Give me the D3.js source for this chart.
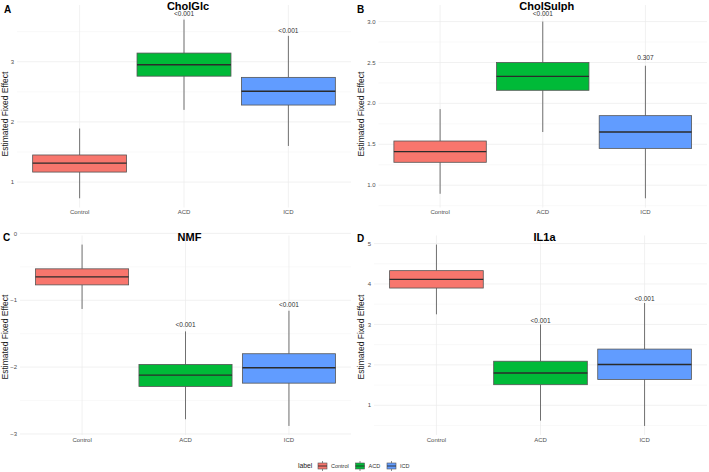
<!DOCTYPE html>
<html>
<head>
<meta charset="utf-8">
<script src="https://cdn.jsdelivr.net/npm/d3@7"></script>
<style>
  body { margin: 0; background: #fff; }
  svg { font-family: "Liberation Sans", Arial, sans-serif; }
</style>
</head>
<body>
<svg width="709" height="472"></svg>
<script>
// data
const groups = ["Control", "ACD", "ICD"];
const colors = ["#F8766D", "#00BA38", "#619CFF"];
const titles = ["CholGlc", "CholSulph", "NMF", "IL1a"];
const tags = ["A", "B", "C", "D"];

const whiskerLow  = [[0.73, 2.20, 1.60], [0.895, 1.65, 0.84], [-1.13, -2.78, -2.88], [3.25, 0.62, 0.49]];
const q1          = [[1.166, 2.76, 2.28], [1.28, 2.16, 1.45], [-0.77, -2.29, -2.24], [3.90, 1.51, 1.64]];
const medians     = [[1.315, 2.95, 2.51], [1.41, 2.33, 1.65], [-0.65, -2.12, -2.01], [4.115, 1.80, 2.01]];
const q3          = [[1.45, 3.144, 2.74], [1.54, 2.50, 1.85], [-0.53, -1.96, -1.80], [4.33, 2.09, 2.39]];
const whiskerHigh = [[1.89, 3.70, 3.43], [1.93, 3.00, 2.46], [-0.167, -1.466, -1.157], [4.975, 3.00, 3.53]];

const pLabels  = [["", "<0.001", "<0.001"], ["", "<0.001", "0.307"], ["", "<0.001", "<0.001"], ["", "<0.001", "<0.001"]];
const pLabelY  = [[null, 3.79, 3.51], [null, 3.09, 2.56], [null, -1.37, -1.06], [null, 3.08, 3.63]];

const yTicks = [[1, 2, 3], [1.0, 1.5, 2.0, 2.5, 3.0], [-3, -2, -1, 0], [1, 2, 3, 4, 5]];
const yTickFormat = [d3.format("d"), d3.format(".1f"), d3.format("d"), d3.format("d")];

// panel placement
const layout = [
    {left: 17,    right: 351, top: 5,     bottom: 207.5, labX: 5,   labY: 114, titleY: 10,  tagX: 4,   tagY: 13},
    {left: 378.5, right: 707, top: 5,     bottom: 207.5, labX: 361, labY: 114, titleY: 10,  tagX: 357, tagY: 12.5},
    {left: 20,    right: 351, top: 235.5, bottom: 435,   labX: 5,   labY: 337, titleY: 241, tagX: 3,   tagY: 241},
    {left: 374,   right: 707, top: 235.5, bottom: 435,   labX: 361, labY: 337, titleY: 241, tagX: 357, tagY: 241.5}
];

const svg = d3.select("svg");

function drawPanel(p) {
    let L = layout[p];
    let g = svg.append("g");

    let x = d3.scalePoint()
        .domain(groups)
        .range([L.left, L.right])
        .padding(0.6);
    let boxW = x.step() * 0.9;

    let lo = d3.min(whiskerLow[p]);
    let hi = d3.max(whiskerHigh[p].concat(pLabelY[p].filter(v => v !== null)));
    let pad = (hi - lo) * 0.05;
    let y = d3.scaleLinear()
        .domain([lo - pad, hi + pad])
        .range([L.bottom, L.top]);

    //minor grid: midpoints between major ticks
    let ticks = yTicks[p];
    let stepT = ticks[1] - ticks[0];
    let minor = d3.range(ticks[0] - stepT / 2, ticks[ticks.length - 1] + stepT, stepT)
        .filter(v => v >= y.domain()[0] && v <= y.domain()[1]);

    g.selectAll(".minor").data(minor).enter().append("line")
        .attr("x1", L.left).attr("x2", L.right)
        .attr("y1", d => y(d)).attr("y2", d => y(d))
        .attr("stroke", "#f2f2f2").attr("stroke-width", 0.5);

    g.selectAll(".major").data(ticks).enter().append("line")
        .attr("x1", L.left).attr("x2", L.right)
        .attr("y1", d => y(d)).attr("y2", d => y(d))
        .attr("stroke", "#ebebeb").attr("stroke-width", 0.7);

    g.selectAll(".vgrid").data(groups).enter().append("line")
        .attr("x1", d => x(d)).attr("x2", d => x(d))
        .attr("y1", L.top).attr("y2", L.bottom)
        .attr("stroke", "#ebebeb").attr("stroke-width", 0.7);

    //y tick labels
    g.selectAll(".ytick").data(ticks).enter().append("text")
        .attr("x", L.left - 3)
        .attr("y", d => y(d))
        .attr("dy", "0.35em")
        .attr("text-anchor", "end")
        .attr("font-size", 6)
        .attr("fill", "#4d4d4d")
        .text(yTickFormat[p]);

    //x tick labels
    g.selectAll(".xtick").data(groups).enter().append("text")
        .attr("x", d => x(d))
        .attr("y", L.bottom + 6.5)
        .attr("text-anchor", "middle")
        .attr("font-size", 6)
        .attr("fill", "#4d4d4d")
        .text(d => d);

    //boxes
    let boxes = g.selectAll(".box").data(groups).enter().append("g");

    boxes.append("line")
        .attr("x1", d => x(d)).attr("x2", d => x(d))
        .attr("y1", (d, i) => y(whiskerHigh[p][i]))
        .attr("y2", (d, i) => y(q3[p][i]))
        .attr("stroke", "#707070").attr("stroke-width", 1);

    boxes.append("line")
        .attr("x1", d => x(d)).attr("x2", d => x(d))
        .attr("y1", (d, i) => y(q1[p][i]))
        .attr("y2", (d, i) => y(whiskerLow[p][i]))
        .attr("stroke", "#707070").attr("stroke-width", 1);

    boxes.append("rect")
        .attr("x", d => x(d) - boxW / 2)
        .attr("width", boxW)
        .attr("y", (d, i) => y(q3[p][i]))
        .attr("height", (d, i) => y(q1[p][i]) - y(q3[p][i]))
        .attr("fill", (d, i) => colors[i])
        .attr("stroke", "#555").attr("stroke-width", 0.8);

    boxes.append("line")
        .attr("x1", d => x(d) - boxW / 2).attr("x2", d => x(d) + boxW / 2)
        .attr("y1", (d, i) => y(medians[p][i]))
        .attr("y2", (d, i) => y(medians[p][i]))
        .attr("stroke", "#2b2b2b").attr("stroke-width", 1.4);

    //p-value labels
    g.selectAll(".plab").data(groups.filter((d, i) => pLabels[p][i])).enter().append("text")
        .attr("x", d => x(d))
        .attr("y", d => y(pLabelY[p][groups.indexOf(d)]))
        .attr("dy", "0.35em")
        .attr("text-anchor", "middle")
        .attr("font-size", 6.5)
        .attr("fill", "#333")
        .text(d => pLabels[p][groups.indexOf(d)]);

    //titles
    g.append("text")
        .attr("x", (L.left + L.right) / 2 + 4)
        .attr("y", L.titleY)
        .attr("text-anchor", "middle")
        .attr("font-size", 11)
        .attr("font-weight", "bold")
        .attr("fill", "#000")
        .text(titles[p]);

    g.append("text")
        .attr("x", L.tagX)
        .attr("y", L.tagY)
        .attr("font-size", 10)
        .attr("font-weight", "bold")
        .attr("fill", "#000")
        .text(tags[p]);

    g.append("text")
        .attr("transform", "translate(" + (L.labX + 3) + "," + L.labY + ") rotate(-90)")
        .attr("text-anchor", "middle")
        .attr("font-size", 8.5)
        .attr("fill", "#1a1a1a")
        .text("Estimated Fixed Effect");
}

titles.forEach((t, p) => drawPanel(p));

//legend
let legend = svg.append("g").attr("transform", "translate(0,466)");
legend.append("text")
    .attr("x", 298).attr("y", 2.3)
    .attr("font-size", 6.8).attr("fill", "#1a1a1a")
    .text("label");

let keyX = [317.5, 355, 386.5];
let keys = legend.selectAll(".key").data(groups).enter().append("g")
    .attr("transform", (d, i) => "translate(" + keyX[i] + ",0)");

keys.append("line")
    .attr("x1", 5).attr("x2", 5).attr("y1", -5).attr("y2", 5)
    .attr("stroke", "#707070").attr("stroke-width", 0.8);
keys.append("rect")
    .attr("x", 0.5).attr("y", -3).attr("width", 9).attr("height", 6)
    .attr("fill", (d, i) => colors[i])
    .attr("stroke", "#555").attr("stroke-width", 0.6);
keys.append("line")
    .attr("x1", 0.5).attr("x2", 9.5).attr("y1", 0).attr("y2", 0)
    .attr("stroke", "#2b2b2b").attr("stroke-width", 0.9);
keys.append("text")
    .attr("x", 13.5).attr("y", 2)
    .attr("font-size", 5.5).attr("fill", "#333")
    .text(d => d);
</script>
</body>
</html>
